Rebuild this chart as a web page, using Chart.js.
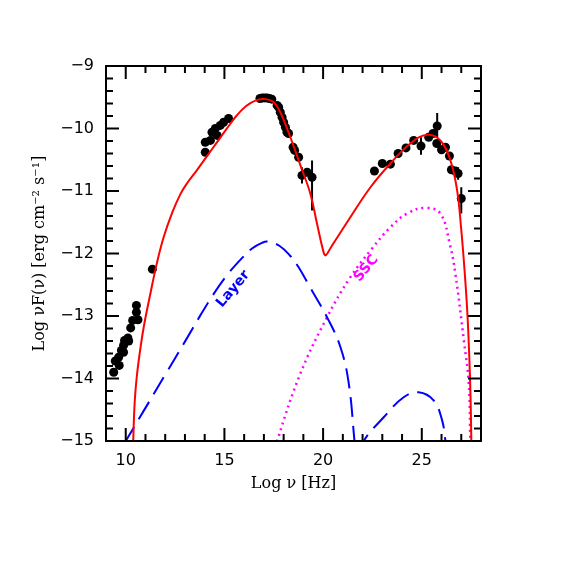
<!DOCTYPE html>
<html>
<head>
<meta charset="utf-8">
<script src="https://cdn.jsdelivr.net/npm/chart.js@4.4.1/dist/chart.umd.min.js"></script>
<style>
  html, body { margin: 0; padding: 0; background: #fff; }
  #wrap { width: 572px; height: 572px; }
</style>
</head>
<body>
<div id="wrap"><canvas id="sedChart" width="572" height="572"></canvas></div>
<script>
// Axis ticks
const xTickValues = [10, 15, 20, 25];
const yTickValues = [-15, -14, -13, -12, -11, -10, -9];

// Observed SED points (log nu, log nuFnu) and error bars
const obsX = [9.39, 9.47, 9.64, 9.67, 9.78, 9.89, 9.89, 9.94, 10.11, 10.15, 10.25, 10.35, 10.54, 10.54, 10.62, 11.35,
  14.03, 14.03, 14.29, 14.37, 14.54, 14.63, 14.79, 14.96, 15.21,
  16.80, 16.92, 17.04, 17.16, 17.28, 17.40, 17.67, 17.75, 17.83, 17.92, 18.00, 18.09, 18.17, 18.25,
  18.48, 18.56, 18.76, 18.93, 19.19, 19.44,
  22.60, 23.00, 23.41, 23.80, 24.20, 24.59, 24.96, 25.35, 25.57, 25.78, 25.76, 26.00, 26.20, 26.40,
  26.50, 26.70, 26.84, 27.00];
const obsY = [-13.90, -13.72, -13.66, -13.79, -13.55, -13.58, -13.47, -13.39, -13.35, -13.40, -13.19, -13.07, -12.83, -12.94, -13.06, -12.25,
  -10.38, -10.22, -10.19, -10.06, -10.00, -10.11, -9.95, -9.90, -9.84,
  -9.52, -9.51, -9.51, -9.51, -9.52, -9.53, -9.63, -9.66, -9.74, -9.82, -9.90, -9.98, -10.06, -10.08,
  -10.30, -10.35, -10.46, -10.75, -10.70, -10.78,
  -10.68, -10.56, -10.57, -10.40, -10.31, -10.19, -10.28, -10.14, -10.08, -9.96, -10.24, -10.34, -10.30, -10.44,
  -10.66, -10.68, -10.72, -11.12];
const obsErrUp = [0, 0, 0, 0, 0, 0, 0, 0, 0, 0, 0, 0, 0, 0, 0, 0,
  0, 0, 0, 0, 0, 0, 0, 0, 0,
  0, 0, 0, 0, 0, 0, 0, 0, 0, 0, 0, 0, 0, 0,
  0, 0, 0, 0.13, 0.05, 0.27,
  0, 0, 0, 0, 0, 0.05, 0.14, 0, 0, 0.21, 0, 0, 0, 0,
  0, 0, 0.10, 0.18];
const obsErrDown = [0, 0, 0, 0, 0, 0, 0, 0, 0, 0, 0, 0, 0, 0, 0, 0,
  0, 0, 0, 0, 0, 0, 0, 0, 0,
  0, 0, 0, 0, 0, 0, 0, 0, 0, 0, 0, 0, 0, 0,
  0, 0, 0, 0.13, 0.05, 0.53,
  0, 0, 0, 0, 0, 0.05, 0.14, 0, 0, 0.19, 0, 0, 0, 0,
  0, 0, 0.10, 0.24];

// Total model (red)
const totalX = [10.36, 10.38, 10.45, 10.55, 10.68, 10.91, 11.25, 11.58, 11.92, 12.35, 12.77, 13.10, 13.60, 14.10,
  14.60, 15.10, 15.60, 16.10, 16.60, 17.10, 17.50, 17.83, 18.34, 18.85, 19.35, 19.69, 20.00, 20.12, 20.40, 21.38,
  22.40, 23.41, 24.42, 25.27, 25.94, 26.45, 26.79, 27.00, 27.15, 27.30, 27.40, 27.47, 27.51, 27.53];
const totalY = [-15.4, -15.0, -14.40, -14.00, -13.66, -13.18, -12.64, -12.15, -11.74, -11.35, -11.05, -10.88, -10.67, -10.45,
  -10.23, -10.01, -9.80, -9.64, -9.55, -9.53, -9.58, -9.74, -10.14, -10.59, -11.04, -11.52, -11.95, -12.03, -11.90, -11.42,
  -10.94, -10.56, -10.24, -10.10, -10.19, -10.51, -10.99, -11.62, -12.20, -12.90, -13.60, -14.30, -15.0, -15.4];

// Layer synchrotron + its IC bump (blue, dashed)
const layerX = [9.9, 10.0, 11.0, 12.0, 13.0, 13.78, 14.45, 15.20, 15.90, 16.40, 16.90, 17.20, 17.80, 18.34, 18.76, 19.30, 20.20, 20.88, 21.30, 21.59, 21.65];
const layerY = [-15.05, -15.0, -14.47, -13.94, -13.41, -12.99, -12.65, -12.32, -12.07, -11.92, -11.83, -11.81, -11.88, -12.04, -12.22, -12.52, -13.02, -13.50, -14.08, -15.0, -15.2];
const layerIcX = [21.95, 22.06, 23.07, 24.08, 24.84, 25.60, 26.03, 26.20, 26.25];
const layerIcY = [-15.2, -15.0, -14.62, -14.30, -14.22, -14.35, -14.67, -15.0, -15.1];

// SSC component (magenta, dotted)
const sscX = [17.55, 17.67, 18.85, 20.20, 21.38, 22.48, 23.41, 24.26, 25.18, 25.94, 26.42, 26.70, 27.13, 27.38, 27.46, 27.48];
const sscY = [-15.2, -15.0, -13.92, -13.02, -12.38, -11.92, -11.58, -11.36, -11.27, -11.36, -11.85, -12.32, -13.39, -14.08, -15.0, -15.2];

const toPoints = (xs, ys) => xs.map((x, i) => ({ x: x, y: ys[i] }));
const fmtMinus = v => String(v).replace('-', '\u2212');

// Inside ticks on all four sides + frame
const framePlugin = {
  id: 'frame',
  afterDatasetsDraw(chart) {
    const { ctx, chartArea: a, scales: { x, y } } = chart;
    ctx.save();
    ctx.strokeStyle = '#000';
    ctx.lineWidth = 2;
    ctx.strokeRect(a.left, a.top, a.right - a.left, a.bottom - a.top);
    ctx.beginPath();
    for (let v = 9; v <= 28; v++) {
      const px = x.getPixelForValue(v);
      const len = v % 5 === 0 ? 13 : 7;
      ctx.moveTo(px, a.bottom); ctx.lineTo(px, a.bottom - len);
      ctx.moveTo(px, a.top); ctx.lineTo(px, a.top + len);
    }
    for (let k = 0; k <= 30; k++) {
      const v = -15 + k * 0.2;
      const py = y.getPixelForValue(v);
      const len = k % 5 === 0 ? 13 : 7;
      ctx.moveTo(a.left, py); ctx.lineTo(a.left + len, py);
      ctx.moveTo(a.right, py); ctx.lineTo(a.right - len, py);
    }
    ctx.stroke();
    ctx.restore();
  }
};

// Vertical error bars, drawn under the markers
const errorBarPlugin = {
  id: 'errorBars',
  beforeDatasetsDraw(chart) {
    const { ctx, scales: { x, y } } = chart;
    ctx.save();
    ctx.strokeStyle = '#000';
    ctx.lineWidth = 2;
    ctx.beginPath();
    obsX.forEach((v, i) => {
      if (!obsErrUp[i] && !obsErrDown[i]) return;
      const px = x.getPixelForValue(v);
      ctx.moveTo(px, y.getPixelForValue(obsY[i] + obsErrUp[i]));
      ctx.lineTo(px, y.getPixelForValue(obsY[i] - obsErrDown[i]));
    });
    ctx.stroke();
    ctx.restore();
  }
};

// Component labels along the curves
const curveLabels = [
  { text: 'Layer', x: 15.45, y: -12.57, angle: -50, color: '#0000ff' },
  { text: 'SSC', x: 22.19, y: -12.24, angle: -50, color: '#ff00ff' }
];
const labelPlugin = {
  id: 'curveLabels',
  afterDatasetsDraw(chart) {
    const { ctx, scales: { x, y } } = chart;
    ctx.save();
    ctx.font = 'bold 14px "DejaVu Sans", sans-serif';
    ctx.textAlign = 'center';
    ctx.textBaseline = 'middle';
    curveLabels.forEach(l => {
      ctx.save();
      ctx.translate(x.getPixelForValue(l.x), y.getPixelForValue(l.y));
      ctx.rotate(l.angle * Math.PI / 180);
      ctx.fillStyle = l.color;
      ctx.fillText(l.text, 0, 0);
      ctx.restore();
    });
    ctx.restore();
  }
};

const ctx = document.getElementById('sedChart').getContext('2d');
new Chart(ctx, {
  type: 'scatter',
  data: {
    datasets: [
      {
        label: 'Total',
        data: toPoints(totalX, totalY),
        showLine: true,
        borderColor: '#ff0000',
        borderWidth: 2,
        pointRadius: 0,
        tension: 0.4
      },
      {
        label: 'Layer',
        data: toPoints(layerX, layerY),
        showLine: true,
        borderColor: '#0000ff',
        borderWidth: 2,
        borderDash: [20, 9],
        pointRadius: 0,
        tension: 0.4
      },
      {
        label: 'Layer IC',
        data: toPoints(layerIcX, layerIcY),
        showLine: true,
        borderColor: '#0000ff',
        borderWidth: 2,
        borderDash: [20, 9],
        pointRadius: 0,
        tension: 0.4
      },
      {
        label: 'SSC',
        data: toPoints(sscX, sscY),
        showLine: true,
        borderColor: '#ff00ff',
        borderWidth: 2.5,
        borderDash: [2, 4],
        pointRadius: 0,
        tension: 0.4
      },
      {
        label: 'Data',
        data: toPoints(obsX, obsY),
        showLine: false,
        pointRadius: 4.5,
        pointBackgroundColor: '#000',
        pointBorderColor: '#000',
        borderWidth: 0
      }
    ]
  },
  options: {
    responsive: false,
    animation: false,
    events: [],
    layout: { padding: { left: 0, right: 91, top: 66, bottom: 60 } },
    plugins: {
      legend: { display: false },
      tooltip: { enabled: false }
    },
    scales: {
      x: {
        type: 'linear',
        min: 9,
        max: 28,
        grid: { display: false, drawTicks: false },
        border: { display: false },
        afterBuildTicks: s => { s.ticks = xTickValues.map(v => ({ value: v })); },
        afterFit: s => { s.height = 71; },
        ticks: {
          padding: 10,
          color: '#000',
          maxRotation: 0,
          font: { family: '"DejaVu Sans", sans-serif', size: 16 },
          callback: v => fmtMinus(v)
        },
        title: {
          display: true,
          text: 'Log \u03bd [Hz]',
          color: '#000',
          padding: { top: 0, bottom: 19 },
          font: { family: '"DejaVu Serif", serif', size: 16 }
        }
      },
      y: {
        type: 'linear',
        min: -15,
        max: -9,
        grid: { display: false, drawTicks: false },
        border: { display: false },
        afterBuildTicks: s => { s.ticks = yTickValues.map(v => ({ value: v })); },
        afterFit: s => { s.width = 106; },
        ticks: {
          padding: 12,
          color: '#000',
          font: { family: '"DejaVu Sans", sans-serif', size: 16 },
          callback: v => fmtMinus(v)
        },
        title: {
          display: true,
          text: 'Log \u03bdF(\u03bd) [erg cm\u207b\u00b2 s\u207b\u00b9]',
          color: '#000',
          padding: { top: 30, bottom: 0 },
          font: { family: '"DejaVu Serif", serif', size: 16 }
        }
      }
    }
  },
  plugins: [errorBarPlugin, framePlugin, labelPlugin]
});
</script>
</body>
</html>
